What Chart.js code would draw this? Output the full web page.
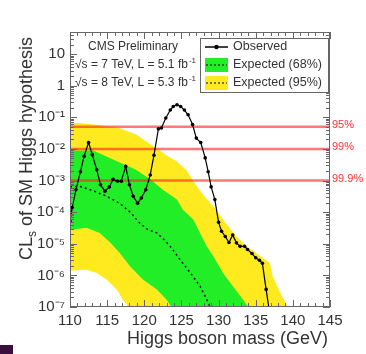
<!DOCTYPE html>
<html><head><meta charset="utf-8">
<script src="https://cdn.jsdelivr.net/npm/chart.js@4.4.1/dist/chart.umd.min.js"></script>
<style>
html,body{margin:0;padding:0;background:#fff;overflow:hidden}
#wrap{position:relative;width:366px;height:354px}
#mark{position:absolute;left:0;top:345px;width:13px;height:9px;background:#3b0f3d}
</style></head><body>
<div id="wrap"><canvas id="c" width="366" height="354"></canvas><div id="mark"></div></div>
<script>
// ---- data ----
const obsMass = [110.0,110.3,110.8,111.4,111.9,112.5,113.0,113.6,114.1,114.7,115.3,115.8,116.4,116.9,117.5,118.0,118.5,119.1,119.6,120.2,120.8,121.3,121.9,122.3,122.9,123.5,123.9,124.4,124.9,125.4,125.9,126.5,127.0,127.6,128.2,128.6,129.0,129.5,130.0,130.4,130.9,131.4,131.9,132.4,132.9,133.5,133.9,134.5,135.0,135.5,135.9,136.4,136.8];
const obsCLs  = [5.2e-5,1.4e-4,5.1e-4,1.9e-3,5.9e-3,1.6e-2,6.6e-3,2.2e-3,7.4e-4,4.6e-4,6.3e-4,1.1e-3,9.5e-4,9.5e-4,2.8e-3,7.4e-4,3.2e-4,1.9e-4,2.8e-4,5.1e-4,1.5e-3,6.3e-3,4.3e-2,4.6e-2,9.5e-2,0.17,0.22,0.25,0.22,0.17,0.12,5.9e-2,2.2e-2,1.6e-2,5.2e-3,1.9e-3,6.3e-4,2.5e-4,4.8e-5,2.5e-5,1.7e-5,1.1e-5,1.9e-5,1.07e-5,8.3e-6,8.3e-6,6.6e-6,4.9e-6,3.6e-6,3.0e-6,2.4e-6,3.6e-7,8.5e-8];

const expMass = [110,111.3,113.1,114.9,116.7,118.1,119.4,120.5,121.7,122.6,123.5,124.8,126.2,127.5,128.6,129.2];
const expCLs  = [6.3e-4,6.6e-4,4.8e-4,3.2e-4,1.9e-4,1.0e-4,4.5e-5,2.8e-5,2.2e-5,1.4e-5,8.3e-6,3.2e-6,1.2e-6,4.6e-7,1.4e-7,6.3e-8];

const band68HiMass = [110,113.1,114.4,116.7,118.9,120.8,122.5,124.4,125.2,126.6,127.5,128.4,129.3,130.6,131.9,133.3,134.2,135];
const band68Hi     = [8.9e-3,8.9e-3,6.6e-3,3.7e-3,2.2e-3,1.1e-3,5.1e-4,2.5e-4,1.2e-4,5.9e-5,2.2e-5,8.3e-6,4.0e-6,1.2e-6,4.6e-7,1.7e-7,8.5e-8,3e-8];
const band68LoMass = [110,112.2,114,115.4,116.7,118.1,119.8,121.7,123,123.9,124.5,136];
const band68Lo     = [2.8e-5,3.2e-5,2.2e-5,1.1e-5,5.1e-6,1.9e-6,7.4e-7,3.6e-7,1.7e-7,8.5e-8,3e-8,1e-9];

const band95HiMass = [110,113.1,116.7,119,120.8,123,124.4,125.7,126.6,127.9,129.3,130.6,132.4,133.8,135.6,136.9,137.3,138.3,139.2,139.8];
const band95Hi     = [6.8e-2,6.0e-2,4.5e-2,2.8e-2,1.4e-2,6.3e-3,4.0e-3,2.1e-3,9.5e-4,3.6e-4,1.5e-4,5.9e-5,1.7e-5,8.3e-6,4.1e-6,2.5e-6,9.3e-7,2.9e-7,1.1e-7,4e-8];
const band95LoMass = [110,112.2,113.6,114.9,116.3,117.1,118.1,118.6,141];
const band95Lo     = [1.4e-6,1.5e-6,1.2e-6,7.4e-7,3.6e-7,1.7e-7,8.5e-8,3e-8,1e-9];

const clLevels = [0.05, 0.01, 0.001];
const clLabels = ['95%', '99%', '99.9%'];

const xTickValues = [110,115,120,125,130,135,140,145];
const yTickValues = [1e-7,1e-6,1e-5,1e-4,1e-3,1e-2,1e-1,1,10];
const yTickLabels = ['10\u207B\u2077','10\u207B\u2076','10\u207B\u2075','10\u207B\u2074','10\u207B\u00B3','10\u207B\u00B2','10\u207B\u00B9','1','10'];

const zip = (xs, ys) => xs.map((x, i) => ({x, y: ys[i]}));

const FONT = "'Liberation Sans', Arial, Helvetica, sans-serif";
Chart.defaults.font.family = FONT;

const YELLOW = 'rgb(255,234,32)';
const GREEN = 'rgb(34,238,40)';

const decor = {
  id: 'decor',
  afterDatasetsDraw(chart) {
    const {ctx, chartArea: a, scales: {x, y}} = chart;
    ctx.save();
    // frame
    ctx.strokeStyle = '#666'; ctx.lineWidth = 1;
    ctx.strokeRect(a.left + 0.5, a.top + 0.5, a.right - a.left - 1, a.bottom - a.top - 1);
    ctx.beginPath();
    for (let m = 110; m <= 145; m++) {
      const px = Math.round(x.getPixelForValue(m)) + 0.5;
      const len = (m % 5 === 0) ? 7 : 4;
      ctx.moveTo(px, a.bottom); ctx.lineTo(px, a.bottom - len);
      ctx.moveTo(px, a.top); ctx.lineTo(px, a.top + len);
    }
    for (let e = -7; e <= 1; e++) {
      for (let k = 1; k <= 9; k++) {
        const v = k * Math.pow(10, e);
        if (v > 50) continue;
        const py = Math.round(y.getPixelForValue(v)) + 0.5;
        const len = (k === 1) ? 7 : 4;
        ctx.moveTo(a.left, py); ctx.lineTo(a.left + len, py);
        ctx.moveTo(a.right, py); ctx.lineTo(a.right - len, py);
      }
    }
    ctx.stroke();

    // confidence labels
    ctx.fillStyle = '#ff3030';
    ctx.font = '11px ' + FONT;
    ctx.textAlign = 'left'; ctx.textBaseline = 'alphabetic';
    clLevels.forEach((lv, i) => {
      ctx.fillText(clLabels[i], a.right + 2, y.getPixelForValue(lv) + 1);
    });

    // CMS text
    ctx.fillStyle = '#333';
    ctx.font = '12px ' + FONT;
    ctx.textBaseline = 'middle';
    ctx.fillText('CMS Preliminary', 88, 47);
    const energyLine = (txt, yy) => {
      ctx.font = '12px ' + FONT;
      ctx.fillText(txt, 75, yy);
      const w = ctx.measureText(txt).width;
      ctx.font = '8px ' + FONT;
      ctx.fillText('-1', 75 + w + 1, yy - 4);
    };
    energyLine('\u221As = 7 TeV, L = 5.1 fb', 65);
    energyLine('\u221As = 8 TeV, L = 5.3 fb', 83);

    // legend
    ctx.fillStyle = '#fff';
    ctx.fillRect(200, 38, 128, 54);
    ctx.strokeStyle = '#666'; ctx.lineWidth = 1;
    ctx.strokeRect(200.5, 38.5, 128, 54);
    ctx.strokeStyle = '#000'; ctx.lineWidth = 1.5;
    ctx.beginPath(); ctx.moveTo(205, 47); ctx.lineTo(228, 47); ctx.stroke();
    ctx.fillStyle = '#000';
    ctx.beginPath(); ctx.arc(216.5, 47, 2.2, 0, Math.PI * 2); ctx.fill();
    [[65, GREEN], [83, YELLOW]].forEach(([yy, col]) => {
      ctx.fillStyle = col; ctx.fillRect(205, yy - 7, 23, 14);
      ctx.setLineDash([2, 2]); ctx.strokeStyle = '#000'; ctx.lineWidth = 1.2;
      ctx.beginPath(); ctx.moveTo(206, yy); ctx.lineTo(227, yy); ctx.stroke();
      ctx.setLineDash([]);
    });
    ctx.fillStyle = '#333';
    ctx.font = '12.5px ' + FONT;
    ctx.fillText('Observed', 233, 47);
    ctx.fillText('Expected (68%)', 233, 65);
    ctx.fillText('Expected (95%)', 233, 83);

    // axis titles
    ctx.font = '18px ' + FONT;
    ctx.fillStyle = '#333';
    ctx.textAlign = 'right'; ctx.textBaseline = 'alphabetic';
    ctx.fillText('Higgs boson mass (GeV)', 328, 344);

    ctx.translate(32, 37);
    ctx.rotate(-Math.PI / 2);
    ctx.textAlign = 'left';
    const p1 = 'CL', p2 = 's', p3 = ' of SM Higgs hypothesis';
    ctx.font = '18px ' + FONT;
    const w1 = ctx.measureText(p1).width, w3 = ctx.measureText(p3).width;
    ctx.font = '12px ' + FONT;
    const w2 = ctx.measureText(p2).width;
    let sx = -(w1 + w2 + w3);
    ctx.font = '18px ' + FONT; ctx.fillText(p1, sx, 0); sx += w1;
    ctx.font = '12px ' + FONT; ctx.fillText(p2, sx, 4); sx += w2;
    ctx.font = '18px ' + FONT; ctx.fillText(p3, sx, 0);
    ctx.restore();
  }
};

const edge = (data, order, fill, color) => ({
  data, order, fill, backgroundColor: color, borderColor: 'transparent', borderWidth: 0,
  pointRadius: 0, tension: 0
});

const datasets = [
  edge(zip(band95HiMass, band95Hi), 6, '+1', YELLOW),
  edge(zip(band95LoMass, band95Lo), 6, false, YELLOW),
  edge(zip(band68HiMass, band68Hi), 5, '+1', GREEN),
  edge(zip(band68LoMass, band68Lo), 5, false, GREEN),
  { data: zip(expMass, expCLs), order: 3, borderColor: '#000', borderWidth: 1.4, borderDash: [2, 3], pointRadius: 0, fill: false },
  ...clLevels.map(lv => ({ data: [{x: 110, y: lv}, {x: 145, y: lv}], order: 2, borderColor: 'rgba(255,30,30,0.6)', borderWidth: 2.5, pointRadius: 0, fill: false })),
  { data: zip(obsMass, obsCLs), order: 1, borderColor: '#000', borderWidth: 1.2, pointRadius: 1.8, pointBackgroundColor: '#000', pointBorderWidth: 0, fill: false }
];

new Chart(document.getElementById('c'), {
  type: 'line',
  data: { datasets },
  options: {
    responsive: false, animation: false, devicePixelRatio: 1,
    layout: { padding: { top: 32, right: 36, left: 0, bottom: 0 } },
    plugins: { legend: { display: false }, tooltip: { enabled: false } },
    scales: {
      x: {
        type: 'linear', min: 110, max: 145,
        afterBuildTicks: s => { s.ticks = xTickValues.map(v => ({value: v})); },
        ticks: { font: { size: 15 }, color: '#333', padding: 5, maxRotation: 0, autoSkip: false },
        grid: { display: false, drawTicks: false }, border: { display: false },
        afterFit: s => { s.height = 47; }
      },
      y: {
        type: 'logarithmic', min: 1e-7, max: 50,
        afterBuildTicks: s => { s.ticks = yTickValues.map(v => ({value: v})); },
        ticks: { font: { size: 15 }, color: '#333', padding: 5, autoSkip: false,
          callback: v => { const i = yTickValues.indexOf(v); return i >= 0 ? yTickLabels[i] : ''; } },
        grid: { display: false, drawTicks: false }, border: { display: false },
        afterFit: s => { s.width = 70; }
      }
    }
  },
  plugins: [decor]
});
</script>
</body></html>
